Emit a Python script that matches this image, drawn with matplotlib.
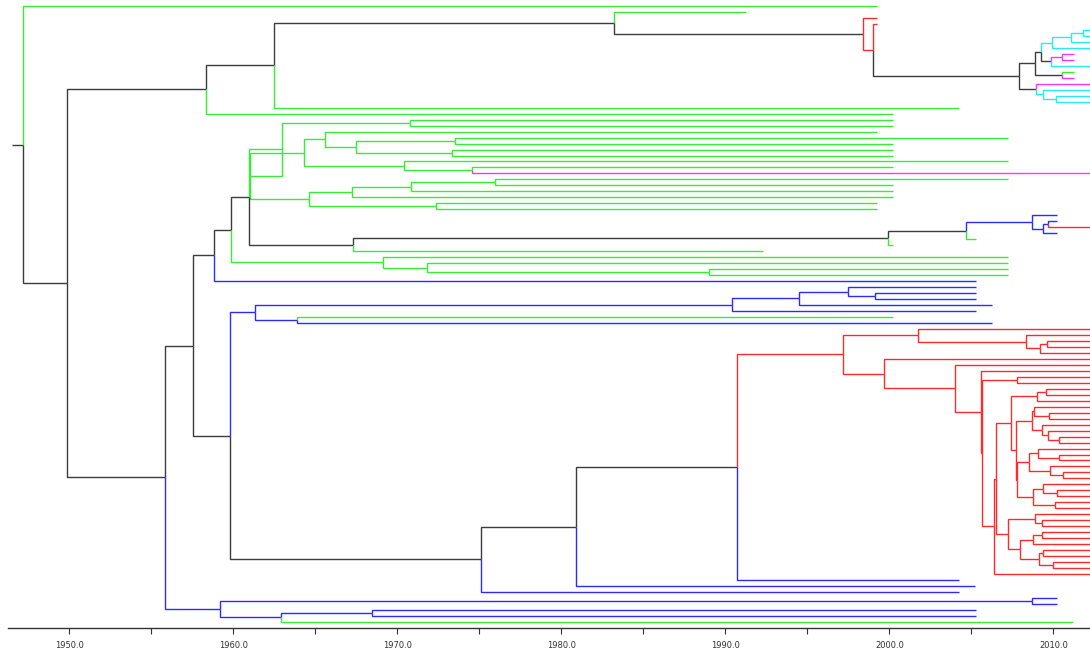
import matplotlib
matplotlib.use('Agg')
import matplotlib.pyplot as plt
from matplotlib.ticker import MultipleLocator, FormatStrFormatter

# time-scaled tree, branches as (node, parent, year of node, state)
# tips are t0..t103, numbered top to bottom
END = 2013.0
stem_year = 1946.49
root_year = 1947.16

top_clade = [
    ('t0', 'root', 1999.24, 'G'),
    ('n66', 'root', 1949.82, 'K'),
    ('n206', 'n66', 1958.32, 'K'),
    ('n274', 'n206', 1962.47, 'K'),
    ('n614', 'n274', 1983.20, 'K'),
    ('t1', 'n614', 1991.25, 'G'),
    ('n863', 'n614', 1998.38, 'K'),
    ('t2', 'n863', 1999.24, 'R'),
    ('n873', 'n863', 1998.99, 'R'),
    ('t3', 'n873', 1999.24, 'R'),
    ('n1019', 'n873', 2007.90, 'K'),
    ('n1035', 'n1019', 2008.87, 'K'),
    ('n1041', 'n1035', 2009.24, 'K'),
    ('n1052', 'n1041', 2009.91, 'C'),
    ('n1071', 'n1052', 2011.07, 'C'),
    ('n1083', 'n1071', 2011.80, 'C'),
    ('t4', 'n1083', END, 'C'),
    ('t5', 'n1083', END, 'C'),
    ('t6', 'n1071', END, 'C'),
    ('t7', 'n1052', END, 'C'),
    ('n1051', 'n1041', 2009.85, 'K'),
    ('n1062m', 'n1051', 2010.52, 'M'),
    ('t8', 'n1062m', 2011.25, 'M'),
    ('t9', 'n1062m', 2011.25, 'M'),
    ('t10', 'n1051', END, 'C'),
    ('n1062g', 'n1035', 2010.52, 'K'),
    ('t11', 'n1062g', 2011.25, 'G'),
    ('t12', 'n1062g', 2011.25, 'M'),
    ('n1036', 'n1019', 2008.93, 'K'),
    ('t13', 'n1036', END, 'M'),
    ('n1043', 'n1036', 2009.36, 'C'),
    ('t14', 'n1043', END, 'C'),
    ('n1056', 'n1043', 2010.15, 'C'),
    ('t15', 'n1056', END, 'C'),
    ('t16', 'n1056', END, 'C'),
    ('t17', 'n274', 2004.24, 'G'),
    ('t18', 'n206', 2000.21, 'G'),
]

green_clade = [
    ('nB', 'nC', 1959.87, 'K'),
    ('nA', 'nB', 1960.96, 'K'),
    ('nD', 'nA', 1962.94, 'G'),
    ('n410', 'nD', 1970.76, 'G'),
    ('t19', 'n410', 2000.21, 'G'),
    ('t20', 'n410', 2000.21, 'G'),
    ('nE', 'nD', 1960.98, 'G'),
    ('n304', 'nE', 1964.30, 'G'),
    ('n325', 'n304', 1965.58, 'G'),
    ('t21', 'n325', 1999.24, 'G'),
    ('n356', 'n325', 1967.47, 'G'),
    ('n455', 'n356', 1973.51, 'G'),
    ('t22', 'n455', 2007.23, 'G'),
    ('t23', 'n455', 2000.21, 'G'),
    ('n452', 'n356', 1973.32, 'G'),
    ('t24', 'n452', 2000.21, 'G'),
    ('t25', 'n452', 2000.21, 'G'),
    ('n404', 'n304', 1970.40, 'G'),
    ('t26', 'n404', 2007.23, 'G'),
    ('n472', 'n404', 1974.54, 'G'),
    ('t27', 'n472', 2000.21, 'G'),
    ('t28', 'n472', END, 'M'),
    ('n309', 'nE', 1964.60, 'G'),
    ('n352', 'n309', 1967.23, 'G'),
    ('n411', 'n352', 1970.82, 'G'),
    ('n495', 'n411', 1975.95, 'G'),
    ('t29', 'n495', 2007.23, 'G'),
    ('t30', 'n495', 2000.21, 'G'),
    ('t31', 'n411', 2000.21, 'G'),
    ('t32', 'n352', 2000.21, 'G'),
    ('n436', 'n309', 1972.35, 'G'),
    ('t33', 'n436', 1999.24, 'G'),
    ('t34', 'n436', 1999.24, 'G'),
    ('n353', 'nA', 1967.29, 'K'),
    ('n888', 'n353', 1999.91, 'K'),
    ('n966', 'n888', 2004.66, 'K'),
    ('n1032', 'n966', 2008.69, 'B'),
    ('t35', 'n1032', 2010.21, 'B'),
    ('n1043b', 'n1032', 2009.36, 'B'),
    ('n1048', 'n1043b', 2009.66, 'B'),
    ('t36', 'n1048', 2010.21, 'B'),
    ('t37', 'n1048', END, 'R'),
    ('t38', 'n1043b', 2010.21, 'B'),
    ('t39', 'n966', 2005.27, 'G'),
    ('t40', 'n888', 2000.21, 'G'),
    ('t41', 'n353', 1992.29, 'G'),
    ('n383', 'nB', 1969.12, 'G'),
    ('t42', 'n383', 2007.23, 'G'),
    ('n427', 'n383', 1971.80, 'G'),
    ('t43', 'n427', 2007.23, 'G'),
    ('n709', 'n427', 1988.99, 'G'),
    ('t44', 'n709', 2007.23, 'G'),
    ('t45', 'n709', 2007.23, 'G'),
    ('t46', 'nC', 2005.27, 'B'),
]

mid_clade = [
    ('n165', 'n66', 1955.85, 'K'),
    ('n192', 'n165', 1957.51, 'K'),
    ('nC', 'n192', 1958.81, 'K'),
    ('n231', 'n192', 1959.79, 'K'),
    ('n254', 'n231', 1961.31, 'B'),
    ('n732', 'n254', 1990.40, 'B'),
    ('n799', 'n732', 1994.48, 'B'),
    ('n848', 'n799', 1997.47, 'B'),
    ('t47', 'n848', 2005.27, 'B'),
    ('n875', 'n848', 1999.12, 'B'),
    ('t48', 'n875', 2005.27, 'B'),
    ('t49', 'n875', 2005.27, 'B'),
    ('t50', 'n799', 2006.25, 'B'),
    ('t51', 'n732', 2005.27, 'B'),
    ('n297', 'n254', 1963.87, 'B'),
    ('t52', 'n297', 2000.21, 'G'),
    ('t53', 'n297', 2006.25, 'B'),
    ('n482', 'n231', 1975.12, 'K'),
    ('n576', 'n482', 1980.88, 'K'),
    ('n737', 'n576', 1990.70, 'K'),
    ('n843', 'n737', 1997.16, 'R'),
    ('t96', 'n737', 2004.24, 'B'),
    ('t97', 'n576', 2005.21, 'B'),
    ('t98', 'n482', 2004.24, 'B'),
]

red_clade = [
    ('n918', 'n843', 2001.76, 'R'),
    ('t54', 'n918', END, 'R'),
    ('n1027', 'n918', 2008.35, 'R'),
    ('t55', 'n1027', END, 'R'),
    ('n1040', 'n1027', 2009.18, 'R'),
    ('n1047', 'n1040', 2009.59, 'R'),
    ('t56', 'n1047', END, 'R'),
    ('t57', 'n1047', END, 'R'),
    ('t58', 'n1040', END, 'R'),
    ('n884', 'n843', 1999.66, 'R'),
    ('t59', 'n884', END, 'R'),
    ('n955', 'n884', 2004.01, 'R'),
    ('t60', 'n955', END, 'R'),
    ('nN1', 'n955', 2005.58, 'R'),
    ('t61', 'nN1', END, 'R'),
    ('nN2', 'nN1', 2005.62, 'R'),
    ('n1017a', 'nN2', 2007.79, 'R'),
    ('t62', 'n1017a', END, 'R'),
    ('t63', 'n1017a', END, 'R'),
    ('n994', 'nN2', 2006.39, 'R'),
    ('n996', 'n994', 2006.48, 'R'),
    ('n1010', 'n996', 2007.39, 'R'),
    ('n1037', 'n1010', 2008.98, 'R'),
    ('n1046', 'n1037', 2009.53, 'R'),
    ('t64', 'n1046', END, 'R'),
    ('t65', 'n1046', END, 'R'),
    ('t66', 'n1037', END, 'R'),
    ('n1016a', 'n1010', 2007.74, 'R'),
    ('n1031', 'n1016a', 2008.67, 'R'),
    ('n1034', 'n1031', 2008.83, 'R'),
    ('t67', 'n1034', END, 'R'),
    ('n1049', 'n1034', 2009.74, 'R'),
    ('t68', 'n1049', END, 'R'),
    ('t69', 'n1049', END, 'R'),
    ('n1041r', 'n1031', 2009.28, 'R'),
    ('t70', 'n1041r', END, 'R'),
    ('n1048r', 'n1041r', 2009.68, 'R'),
    ('t71', 'n1048r', END, 'R'),
    ('n1059', 'n1048r', 2010.34, 'R'),
    ('t72', 'n1059', END, 'R'),
    ('t73', 'n1059', END, 'R'),
    ('n1016b', 'n1016a', 2007.77, 'R'),
    ('n1029', 'n1016b', 2008.52, 'R'),
    ('n1038', 'n1029', 2009.07, 'R'),
    ('t74', 'n1038', END, 'R'),
    ('n1059b', 'n1038', 2010.35, 'R'),
    ('t75', 'n1059b', END, 'R'),
    ('t76', 'n1059b', END, 'R'),
    ('n1050', 'n1029', 2009.79, 'R'),
    ('t77', 'n1050', END, 'R'),
    ('n1062r', 'n1050', 2010.56, 'R'),
    ('t78', 'n1062r', END, 'R'),
    ('t79', 'n1062r', END, 'R'),
    ('n1033', 'n1016b', 2008.77, 'R'),
    ('n1042', 'n1033', 2009.34, 'R'),
    ('t80', 'n1042', END, 'R'),
    ('n1057', 'n1042', 2010.23, 'R'),
    ('t81', 'n1057', END, 'R'),
    ('t82', 'n1057', END, 'R'),
    ('n1055', 'n1033', 2010.09, 'R'),
    ('t83', 'n1055', END, 'R'),
    ('t84', 'n1055', END, 'R'),
    ('n1008', 'n996', 2007.24, 'R'),
    ('n1036r', 'n1008', 2008.90, 'R'),
    ('t85', 'n1036r', END, 'R'),
    ('n1041c', 'n1036r', 2009.28, 'R'),
    ('t86', 'n1041c', END, 'R'),
    ('t87', 'n1041c', END, 'R'),
    ('n1020', 'n1008', 2007.96, 'R'),
    ('n1033b', 'n1020', 2008.77, 'R'),
    ('n1042b', 'n1033b', 2009.30, 'R'),
    ('t88', 'n1042b', END, 'R'),
    ('t89', 'n1042b', END, 'R'),
    ('t90', 'n1033b', END, 'R'),
    ('n1038b', 'n1020', 2009.10, 'R'),
    ('n1042c', 'n1038b', 2009.34, 'R'),
    ('t91', 'n1042c', END, 'R'),
    ('t92', 'n1042c', END, 'R'),
    ('n1053', 'n1038b', 2009.99, 'R'),
    ('t93', 'n1053', END, 'R'),
    ('t94', 'n1053', END, 'R'),
    ('t95', 'n994', END, 'R'),
]

bottom_clade = [
    ('n220', 'n165', 1959.18, 'B'),
    ('n1032b', 'n220', 2008.69, 'B'),
    ('t99', 'n1032b', 2010.21, 'B'),
    ('t100', 'n1032b', 2010.21, 'B'),
    ('n280', 'n220', 1962.88, 'B'),
    ('n372', 'n280', 1968.45, 'B'),
    ('t101', 'n372', 2005.27, 'B'),
    ('t102', 'n372', 2005.27, 'B'),
    ('t103', 'n280', 2011.19, 'G'),
]

palette = {'K': '#3c3c3c', 'G': '#33ee33', 'R': '#ff2a2a',
           'B': '#2b2bff', 'C': '#22eeee', 'M': '#ff33ff'}

edges = top_clade + green_clade + mid_clade + red_clade + bottom_clade

year = {'root': root_year}
children = {}
for name, par, yr, st in edges:
    year[name] = yr
    children.setdefault(par, []).append(name)

rows = {}
def row(n):
    if n in rows:
        return rows[n]
    if n.startswith('t'):
        r = int(n[1:])
    else:
        ys = [row(c) for c in children[n]]
        r = (min(ys) + max(ys)) / 2
    rows[n] = r
    return r

row('root')

fig = plt.figure(figsize=(10.9, 6.54), dpi=100)
ax = fig.add_axes([8 / 1090, 26 / 654, 1082 / 1090, 628 / 654])

ax.plot([stem_year, root_year], [rows['root'], rows['root']],
        color=palette['K'], lw=1.0, solid_capstyle='butt')
for name, par, yr, st in edges:
    ax.plot([year[par], year[par], year[name]],
            [rows[par], rows[name], rows[name]],
            color=palette[st], lw=1.0,
            solid_capstyle='butt', solid_joinstyle='miter')

ax.set_xlim(1946.25, 2012.226)
ax.set_ylim(104.01, -1.003)

for s in ['top', 'left', 'right']:
    ax.spines[s].set_visible(False)
ax.spines['bottom'].set_color('#333333')
ax.spines['bottom'].set_linewidth(1.0)
ax.set_yticks([])
ax.xaxis.set_major_locator(MultipleLocator(10))
ax.xaxis.set_minor_locator(MultipleLocator(5))
ax.xaxis.set_major_formatter(FormatStrFormatter('%.1f'))
ax.tick_params(axis='x', which='both', length=4, width=0.8,
               color='#333333', labelsize=6, labelcolor='#333333', pad=5)

fig.savefig('out.png', dpi=100)
